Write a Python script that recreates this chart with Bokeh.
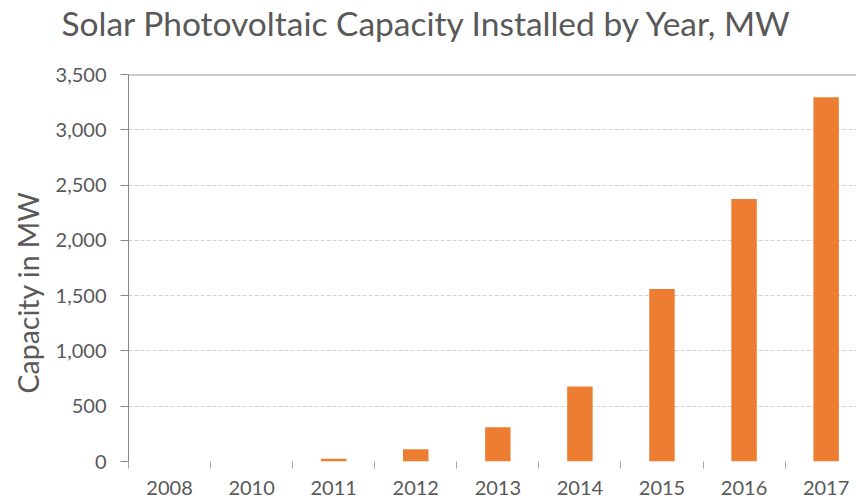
from bokeh.plotting import figure
from bokeh.models import (Range1d, FixedTicker, CustomJSTickFormatter, NumeralTickFormatter,
                          Span, Title, LinearAxis, ColumnDataSource)
from bokeh.embed import file_html
from bokeh.resources import INLINE

# ---- data ----
years = ["2008", "2010", "2011", "2012", "2013", "2014", "2015", "2016", "2017"]
capacity_mw = [0, 0, 24, 111, 310, 678, 1561, 2375, 3294]
y_ticks = [0, 500, 1000, 1500, 2000, 2500, 3000, 3500]

title_text = "Solar Photovoltaic Capacity Installed by Year, MW"
y_label_text = "Capacity in MW"

FONT = "Lato"
GRAY = "#595959"
ORANGE = "#ED7D31"

n = len(years)
centers = [i + 0.5 for i in range(n)]
bounds = list(range(n))

src = ColumnDataSource(dict(x=centers, top=capacity_mw, year=years))

p = figure(width=856, height=504, output_backend="svg", toolbar_location=None,
           x_range=Range1d(0, 8.87), y_range=Range1d(0, 3500),
           min_border_left=127, min_border_right=0, min_border_top=74, min_border_bottom=43)
p.outline_line_color = None
p.background_fill_color = "white"
p.border_fill_color = "white"

# title
p.title.text = title_text
p.title.text_font = FONT
p.title.text_font_size = "33.5px"
p.title.text_font_style = "normal"
p.title.text_color = GRAY
p.title.align = "left"
p.title.offset = -67
p.title.standoff = 0

# bars
p.vbar(x="x", top="top", width=0.31, source=src, fill_color=ORANGE, line_color=None)

# y axis
p.yaxis.ticker = FixedTicker(ticks=y_ticks)
p.yaxis.formatter = NumeralTickFormatter(format="0,0")
p.yaxis.major_label_text_font = FONT
p.yaxis.major_label_text_font_size = "20px"
p.yaxis.major_label_text_color = GRAY
p.yaxis.major_tick_in = 0
p.yaxis.major_tick_out = 8
p.yaxis.minor_tick_line_color = None
p.yaxis.axis_line_color = "#868686"
p.yaxis.major_tick_line_color = "#868686"
p.yaxis.major_label_standoff = 14

# y axis title
ytitle = Title(text=y_label_text, align="left", offset=68, standoff=16,
               text_font=FONT, text_font_size="28.5px", text_font_style="normal",
               text_color=GRAY)
p.add_layout(ytitle, "left")

# x axis (the bottom one only)
xax = p.below[0]
xax.ticker = FixedTicker(ticks=centers, minor_ticks=bounds)
xax.formatter = CustomJSTickFormatter(args=dict(labels=years),
                                      code="return labels[Math.floor(tick)];")
xax.major_label_text_font = FONT
xax.major_label_text_font_size = "20px"
xax.major_label_text_color = GRAY
xax.axis_line_color = None
xax.major_tick_line_color = None
xax.major_tick_out = 0
xax.major_tick_in = 0
xax.minor_tick_line_color = "#A6A6A6"
xax.minor_tick_out = 7
xax.minor_tick_in = 0
xax.major_label_standoff = 12

# invisible spacer between the title and the plot area (white tick on white)
spacer = LinearAxis(ticker=FixedTicker(ticks=[0], minor_ticks=[]), axis_line_color=None,
                    major_tick_line_color="white", minor_tick_line_color=None,
                    major_label_text_color=None,
                    major_tick_out=32, major_tick_in=0, minor_tick_out=0, minor_tick_in=0)
p.add_layout(spacer, "above")

# grid
p.xgrid.grid_line_color = None
p.ygrid.ticker = FixedTicker(ticks=y_ticks)
p.ygrid.grid_line_color = "#D0D0D0"
p.ygrid.grid_line_dash = "4 2"
p.ygrid.grid_line_width = 1

top_line = Span(location=y_ticks[-1], dimension="width", line_color="#9A9A9A", line_width=2)
p.add_layout(top_line)

open("out.html", "w").write(file_html(p, INLINE))
